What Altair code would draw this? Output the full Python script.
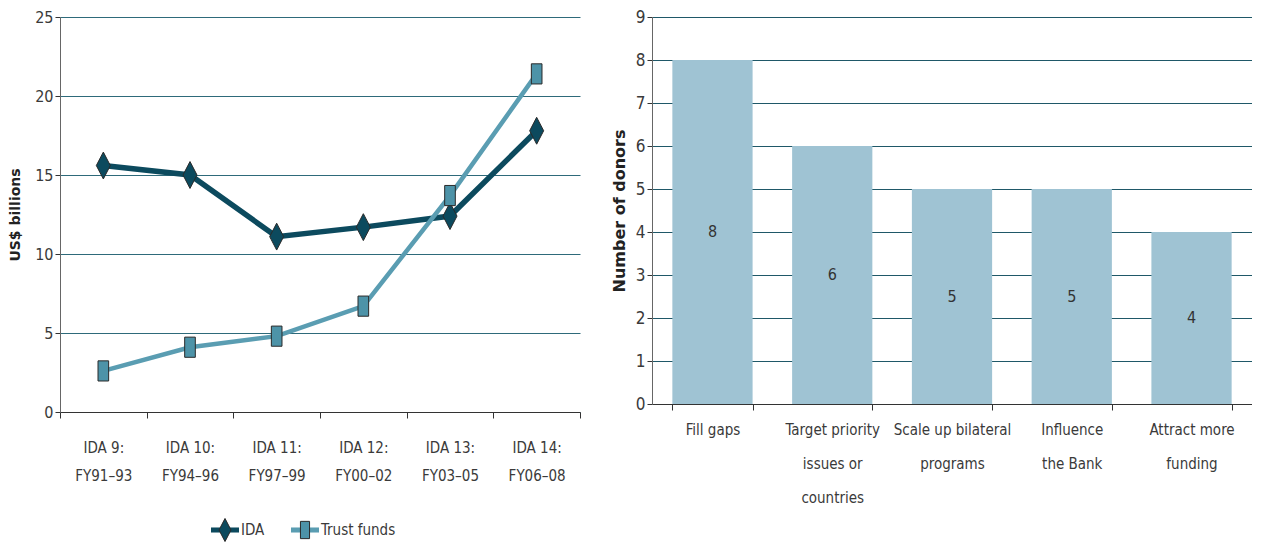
import altair as alt
import pandas as pd

# ---- Left chart data ----
periods = ["IDA 9:|FY91–93", "IDA 10:|FY94–96", "IDA 11:|FY97–99",
           "IDA 12:|FY00–02", "IDA 13:|FY03–05", "IDA 14:|FY06–08"]
ida = [15.6, 15.0, 11.1, 11.7, 12.4, 17.8]
trust = [2.6, 4.1, 4.8, 6.7, 13.7, 21.4]
series_names = ["IDA", "Trust funds"]

# ---- Right chart data ----
reasons = ["Fill gaps", "Target priority|issues or|countries",
           "Scale up bilateral|programs", "Influence|the Bank",
           "Attract more|funding"]
donors = [8, 6, 5, 5, 4]

FONT = "DejaVu Sans Condensed, DejaVu Sans, sans-serif"
DARK = "#0c4a5e"
LIGHT = "#5a9db2"
MARK_LIGHT = "#4d93a8"

df_left = pd.DataFrame(
    [{"period": p, "value": v, "series": "IDA"} for p, v in zip(periods, ida)]
    + [{"period": p, "value": v, "series": "Trust funds"} for p, v in zip(periods, trust)]
)

diamond = "M0,-0.96L0.5,0L0,0.96L-0.5,0Z"
rect = "M-0.38,-0.72L0.38,-0.72L0.38,0.72L-0.38,0.72Z"
bar_path = "M-1,-0.18L1,-0.18L1,0.18L-1,0.18Z"

x_left = alt.X(
    "period:N", sort=periods, title=None,
    scale=alt.Scale(paddingInner=0, paddingOuter=0),
    axis=alt.Axis(labelExpr="split(datum.label, '|')", labelAngle=0,
                  labelFont=FONT, labelFontSize=15, labelColor="#3a3a3a",
                  labelLineHeight=28, labelPadding=22, tickBand="extent",
                  domainColor="#333", tickColor="#333", tickSize=6, grid=False),
)
y_left = alt.Y(
    "value:Q", title="US$ billions",
    scale=alt.Scale(domain=[0, 25]),
    axis=alt.Axis(values=[0, 5, 10, 15, 20, 25], labelFont=FONT, labelFontSize=16,
                  labelColor="#3a3a3a", domainColor="#666", tickColor="#333",
                  tickSize=5, gridColor="#2e6a7a", gridOpacity=1, gridWidth=1,
                  titleFont="DejaVu Sans", titleFontSize=14, titleFontWeight="bold",
                  titleColor="#222", titlePadding=12),
)

lines = alt.Chart(df_left).mark_line().encode(
    x=x_left, y=y_left,
    color=alt.Color("series:N", scale=alt.Scale(domain=series_names, range=[DARK, LIGHT]), legend=None),
    strokeWidth=alt.StrokeWidth("series:N", scale=alt.Scale(domain=series_names, range=[5.5, 4.5]), legend=None),
)

points = alt.Chart(df_left).mark_point(filled=True, size=784, stroke="#2a2a2a", strokeWidth=1, opacity=1).encode(
    x=x_left, y=y_left,
    fill=alt.Fill("series:N", scale=alt.Scale(domain=series_names, range=[DARK, MARK_LIGHT]), legend=None),
    shape=alt.Shape("series:N", scale=alt.Scale(domain=series_names, range=[diamond, rect]), legend=None),
)

left = alt.layer(lines, points).properties(width=520, height=395)

# ---- Legend (built as a small chart) ----
df_leg = pd.DataFrame({"series": series_names})
x_leg = alt.X("series:N", sort=series_names, axis=None,
              scale=alt.Scale(type="point", domain=series_names, range=[165, 245], padding=0))

leg_bar = alt.Chart(df_leg).mark_point(filled=True, size=784, opacity=1, strokeWidth=0).encode(
    x=x_leg,
    color=alt.Color("series:N", scale=alt.Scale(domain=series_names, range=[DARK, LIGHT]), legend=None),
    shape=alt.value(bar_path),
)
leg_mark = alt.Chart(df_leg).mark_point(filled=True, size=576, opacity=1, stroke="#2a2a2a", strokeWidth=1).encode(
    x=x_leg,
    fill=alt.Fill("series:N", scale=alt.Scale(domain=series_names, range=[DARK, MARK_LIGHT]), legend=None),
    shape=alt.Shape("series:N", scale=alt.Scale(domain=series_names, range=[diamond, rect]), legend=None),
)
leg_text = alt.Chart(df_leg).mark_text(
    align="left", baseline="middle", dx=16, font=FONT, fontSize=15, color="#3a3a3a"
).encode(x=x_leg, text="series:N")

legend_chart = alt.layer(leg_bar, leg_mark, leg_text).properties(width=410, height=24)

left_col = alt.vconcat(left, legend_chart, spacing=33).resolve_scale(
    x="independent", color="independent", fill="independent", shape="independent"
)

# ---- Right chart ----
df_right = pd.DataFrame({"reason": reasons, "donors": donors})

x_right = alt.X(
    "reason:N", sort=reasons, title=None,
    scale=alt.Scale(paddingInner=0.33, paddingOuter=0.17),
    axis=alt.Axis(labelExpr="split(datum.label, '|')", labelAngle=0,
                  labelFont=FONT, labelFontSize=15, labelColor="#3a3a3a",
                  labelLineHeight=34, labelPadding=12, labelBaseline="top", tickBand="extent",
                  domainColor="#333", tickColor="#333", tickSize=6, grid=False),
)
y_right = alt.Y(
    "donors:Q", title="Number of donors",
    scale=alt.Scale(domain=[0, 9]),
    axis=alt.Axis(values=list(range(10)), labelFont=FONT, labelFontSize=17,
                  labelColor="#3a3a3a", domainColor="#666", tickColor="#333",
                  tickSize=5, gridColor="#1f5868", gridOpacity=1, gridWidth=1,
                  titleFont="DejaVu Sans", titleFontSize=16, titleFontWeight="bold",
                  titleColor="#222", titlePadding=8),
)

bars = alt.Chart(df_right).mark_bar(color="#9fc3d3").encode(x=x_right, y=y_right)
labels = alt.Chart(df_right).transform_calculate(mid="datum.donors / 2").mark_text(
    font=FONT, fontSize=16, color="#333", baseline="middle"
).encode(
    x=alt.X("reason:N", sort=reasons),
    y=alt.Y("mid:Q"),
    text="donors:Q",
)

right = alt.layer(bars, labels).properties(width=600, height=387)

chart = alt.hconcat(left_col, right, spacing=30).resolve_scale(
    x="independent", y="independent", color="independent", fill="independent", shape="independent"
).configure(padding=0).configure_view(stroke=None)

chart.save("out.html", embed_options={"renderer": "svg", "actions": False})
